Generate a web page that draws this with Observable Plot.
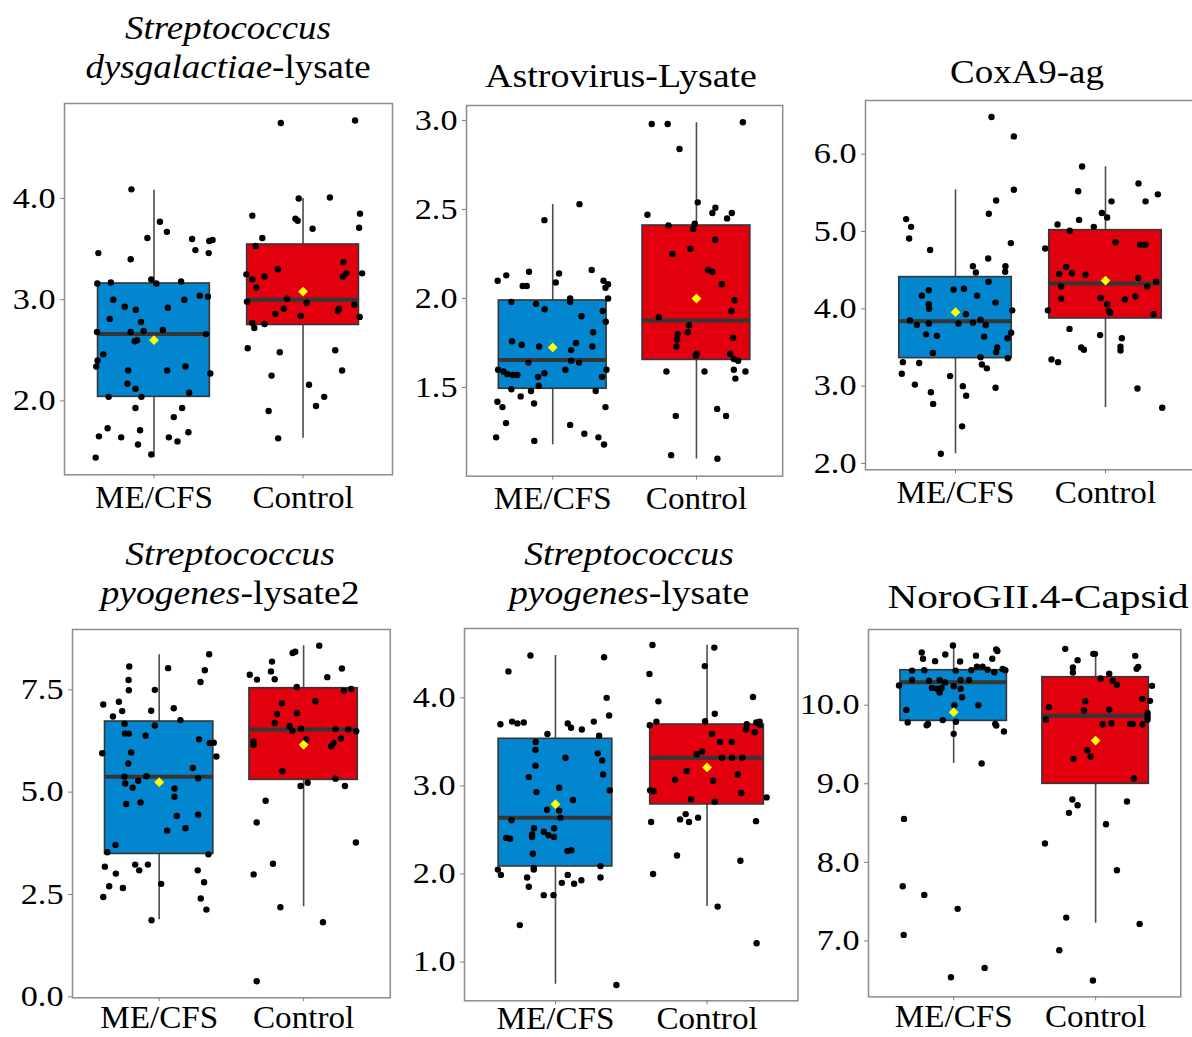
<!DOCTYPE html>
<html><head><meta charset="utf-8">
<script src="https://cdn.jsdelivr.net/npm/d3@7"></script>
<script src="https://cdn.jsdelivr.net/npm/@observablehq/plot@0.6"></script>
<style>
html,body{margin:0;padding:0;background:#fff;}
#fig{position:relative;width:1192px;height:1037px;overflow:hidden;background:#fff;}
.panel{position:absolute;overflow:hidden;}
</style></head><body><div id="fig"></div>
<script>
const groups = ["ME/CFS", "Control"];
const fills = ["#0386d0", "#e2000f"];

// Titles: [text, italic]
const titles = [
  [[["Streptococcus",1]], [["dysgalactiae",1],["-lysate",0]]],
  [[["Astrovirus-Lysate",0]]],
  [[["CoxA9-ag",0]]],
  [[["Streptococcus",1]], [["pyogenes",1],["-lysate2",0]]],
  [[["Streptococcus",1]], [["pyogenes",1],["-lysate",0]]],
  [[["NoroGII.4-Capsid",0]]]
];

// y tick values per panel
const ticks1 = [2.0, 3.0, 4.0];
const ticks2 = [1.5, 2.0, 2.5, 3.0];
const ticks3 = [2.0, 3.0, 4.0, 5.0, 6.0];
const ticks4 = [0.0, 2.5, 5.0, 7.5];
const ticks5 = [1.0, 2.0, 3.0, 4.0];
const ticks6 = [7.0, 8.0, 9.0, 10.0];

// box stats per group: [lower whisker, Q1, median, Q3, upper whisker, mean]
const box1 = [[1.44,2.04,2.66,3.16,4.08,2.60],[1.63,2.75,3.00,3.545,4.00,3.08]];
const box2 = [[1.178,1.493,1.655,1.989,2.528,1.725],[1.099,1.655,1.876,2.41,2.987,2.00]];
const box3 = [[2.125,3.362,3.84,4.41,5.54,3.957],[2.724,3.875,4.328,5.017,5.836,4.366]];
const box4 = [[1.88,3.49,5.375,6.726,8.355,5.244],[2.2,5.30,6.53,7.54,8.575,6.156]];
const box5 = [[0.75,2.086,2.638,3.535,4.48,2.793],[1.63,2.79,3.319,3.697,4.598,3.21]];
const box6 = [[9.258,9.80,10.293,10.445,10.768,9.911],[7.225,8.999,9.864,10.356,10.666,9.55]];

// points: [jitter (category units), value]
const me1 = [[-0.151,4.09],[-0.373,3.46],[-0.156,3.40],[0.04,3.77],[0.087,3.67],[-0.044,3.61],[0.256,3.60],[0.278,3.49],[0.371,3.58],[0.393,3.59],[0.367,3.46],[-0.38,3.16],[-0.289,3.17],[-0.018,3.20],[0.016,3.16],[0.182,3.18],[-0.273,3.00],[-0.196,2.93],[-0.122,2.90],[0.204,3.00],[0.307,3.04],[0.362,3.03],[-0.296,2.81],[-0.087,2.78],[0.093,2.92],[-0.382,2.68],[-0.156,2.68],[-0.069,2.69],[0.06,2.70],[-0.129,2.59],[-0.113,2.60],[0.349,2.66],[-0.34,2.46],[-0.378,2.40],[-0.387,2.34],[-0.173,2.30],[0.089,2.30],[0.211,2.34],[0.378,2.27],[-0.178,2.17],[-0.124,2.12],[-0.304,2.04],[-0.084,2.04],[0.236,2.08],[-0.124,1.93],[0.189,1.93],[0.133,1.84],[-0.311,1.73],[-0.369,1.65],[-0.22,1.64],[-0.093,1.71],[-0.107,1.57],[0.1,1.64],[0.158,1.60],[0.231,1.69],[-0.391,1.44],[-0.018,1.47]];
const ctrl1 = [[-0.149,4.745],[0.349,4.77],[-0.029,4.00],[0.18,4.01],[-0.34,3.83],[-0.051,3.80],[-0.036,3.78],[0.382,3.85],[0.376,3.71],[0.064,3.70],[-0.273,3.61],[-0.318,3.53],[-0.38,3.25],[-0.34,3.20],[-0.258,3.23],[-0.169,3.30],[-0.313,3.12],[0.271,3.37],[0.267,3.23],[0.291,3.26],[0.396,3.26],[-0.376,2.98],[-0.107,3.01],[0.024,2.97],[-0.129,2.91],[-0.187,2.86],[-0.016,2.84],[0.242,2.91],[0.233,2.89],[0.344,2.95],[0.38,2.83],[-0.34,2.77],[-0.258,2.76],[-0.327,2.72],[-0.371,2.52],[-0.156,2.48],[0.216,2.50],[-0.211,2.25],[0.262,2.30],[0.04,2.16],[0.142,2.04],[0.087,1.95],[-0.231,1.90],[-0.167,1.63]];

const me2 = [[0.186,2.53],[-0.058,2.44],[-0.383,2.10],[-0.323,2.13],[-0.165,2.15],[-0.209,2.07],[-0.181,2.07],[0.044,2.14],[0.021,2.09],[0.271,2.16],[0.353,2.10],[0.367,2.06],[0.385,2.08],[-0.288,1.98],[-0.116,1.97],[-0.056,1.94],[0.121,2.00],[0.121,1.98],[0.385,2.00],[0.348,1.93],[0.2,1.90],[0.369,1.87],[0.281,1.81],[-0.283,1.76],[-0.216,1.74],[-0.095,1.73],[0.162,1.75],[0.128,1.71],[0.276,1.73],[-0.38,1.60],[-0.343,1.59],[-0.316,1.575],[-0.278,1.57],[-0.246,1.57],[-0.169,1.64],[0.088,1.60],[0.128,1.65],[0.183,1.64],[-0.058,1.58],[-0.102,1.56],[0.343,1.56],[0.374,1.60],[-0.288,1.49],[-0.151,1.48],[-0.097,1.51],[-0.223,1.45],[0.299,1.48],[-0.385,1.42],[-0.35,1.39],[-0.13,1.41],[0.367,1.39],[-0.325,1.30],[0.121,1.29],[-0.394,1.22],[-0.128,1.20],[0.22,1.24],[0.318,1.22],[0.357,1.18]];
const ctrl2 = [[-0.311,2.98],[-0.2,2.98],[0.323,2.99],[-0.118,2.84],[0.009,2.54],[-0.341,2.47],[0.132,2.51],[0.111,2.48],[0.246,2.48],[0.213,2.45],[-0.195,2.41],[-0.012,2.42],[-0.023,2.39],[0.13,2.33],[-0.042,2.28],[-0.167,2.25],[0.081,2.16],[0.111,2.15],[0.176,2.08],[0.265,1.99],[0.244,1.93],[-0.262,1.895],[-0.051,1.85],[-0.06,1.81],[-0.13,1.80],[-0.135,1.77],[-0.139,1.73],[0.002,1.69],[-0.005,1.68],[0.255,1.78],[0.234,1.69],[0.26,1.66],[0.29,1.65],[-0.209,1.59],[0.056,1.59],[0.26,1.60],[0.341,1.59],[0.271,1.55],[-0.144,1.34],[0.144,1.38],[0.206,1.34],[-0.176,1.12],[0.146,1.10]];

const me3 = [[0.24,6.48],[0.389,6.23],[0.389,5.54],[0.271,5.40],[-0.329,5.16],[-0.296,5.06],[-0.309,4.91],[0.222,5.23],[-0.169,4.76],[0.369,4.85],[0.218,4.65],[0.116,4.55],[0.136,4.47],[0.333,4.55],[0.331,4.48],[0.22,4.35],[-0.224,4.17],[-0.178,4.24],[-0.013,4.25],[0.056,4.26],[0.144,4.17],[-0.178,4.06],[-0.176,4.00],[0.267,4.08],[0.378,3.98],[0.069,3.93],[-0.304,3.85],[-0.258,3.79],[-0.178,3.81],[0.02,3.81],[0.116,3.82],[0.167,3.86],[0.202,3.79],[-0.196,3.67],[-0.124,3.65],[0.191,3.64],[0.371,3.69],[0.347,3.62],[0.278,3.50],[0.271,3.44],[-0.151,3.43],[0.167,3.375],[0.349,3.36],[-0.351,3.31],[-0.242,3.30],[0.176,3.28],[0.209,3.23],[-0.358,3.16],[-0.036,3.13],[-0.271,3.02],[0.049,3.00],[0.267,2.98],[-0.164,2.92],[0.071,2.875],[-0.149,2.77],[0.044,2.48],[-0.098,2.125]];
const ctrl3 = [[-0.156,5.84],[0.22,5.62],[-0.182,5.52],[0.349,5.48],[0.04,5.39],[0.267,5.39],[-0.024,5.24],[0.011,5.18],[-0.176,5.15],[-0.32,5.09],[-0.078,5.06],[-0.238,5.01],[-0.402,4.78],[0.067,4.86],[0.231,4.83],[0.267,4.83],[-0.262,4.54],[-0.309,4.45],[-0.224,4.46],[-0.133,4.44],[-0.296,4.29],[0.218,4.40],[0.278,4.29],[0.338,4.35],[-0.296,4.13],[-0.033,4.14],[0.011,4.06],[0.129,4.12],[0.198,4.16],[0.022,3.97],[0.031,3.95],[-0.384,3.98],[0.32,3.93],[-0.24,3.74],[-0.036,3.66],[0.109,3.62],[0.1,3.51],[0.1,3.46],[-0.162,3.50],[-0.144,3.47],[-0.36,3.345],[-0.316,3.31],[0.213,2.97],[0.378,2.72]];

const me4 = [[0.346,8.37],[-0.207,8.07],[0.062,8.03],[0.316,7.98],[-0.212,7.74],[0.286,7.69],[-0.21,7.49],[-0.03,7.50],[-0.387,7.14],[-0.279,7.21],[0.101,7.05],[-0.256,6.98],[-0.055,6.99],[-0.32,6.85],[0.147,6.76],[-0.24,6.67],[-0.03,6.63],[-0.237,6.43],[-0.21,6.43],[-0.094,6.38],[0.276,6.29],[0.35,6.20],[0.378,6.21],[-0.394,5.95],[-0.194,5.97],[0.396,5.87],[-0.214,5.70],[0.233,5.59],[-0.24,5.375],[-0.088,5.39],[0.27,5.34],[-0.235,5.21],[-0.184,5.11],[-0.145,5.28],[0.106,5.09],[0.106,4.89],[-0.228,4.71],[-0.129,4.75],[0.122,4.42],[0.27,4.45],[0.055,4.06],[0.182,4.12],[-0.302,3.71],[-0.359,3.53],[0.341,3.48],[-0.376,3.18],[-0.166,3.23],[-0.138,3.09],[-0.078,3.23],[0.267,3.09],[-0.3,3.01],[-0.346,2.70],[-0.251,2.66],[-0.387,2.44],[0.014,2.76],[0.311,2.80],[0.288,2.40],[0.327,2.13],[-0.053,1.87]];
const ctrl4 = [[0.108,8.58],[-0.076,8.40],[-0.058,8.43],[-0.219,8.19],[-0.226,7.95],[0.265,8.02],[-0.373,7.87],[-0.323,7.75],[-0.2,7.76],[0.164,7.81],[-0.048,7.57],[0.279,7.48],[0.329,7.52],[-0.15,7.17],[0.081,7.22],[-0.184,6.91],[-0.046,6.93],[-0.2,6.69],[-0.097,6.61],[-0.078,6.50],[-0.018,6.55],[0.221,6.54],[0.309,6.53],[0.364,6.49],[-0.346,6.24],[-0.346,6.16],[0.018,6.29],[0.258,6.31],[0.191,6.12],[0.207,6.20],[-0.147,5.51],[0.221,5.33],[0.028,5.23],[-0.021,5.15],[0.286,5.15],[-0.263,4.79],[-0.325,4.26],[0.362,3.77],[-0.212,3.25],[-0.346,2.99],[-0.161,2.19],[0.134,1.82],[-0.325,0.38]];

const me5 = [[-0.165,4.48],[0.321,4.46],[-0.31,4.30],[0.338,4.00],[0.354,3.80],[-0.363,3.70],[-0.286,3.73],[-0.251,3.71],[-0.209,3.72],[-0.053,3.59],[0.081,3.71],[0.103,3.66],[0.174,3.64],[0.253,3.73],[0.288,3.57],[-0.13,3.50],[-0.132,3.41],[0.279,3.37],[0.308,3.29],[0.066,3.32],[-0.132,3.23],[0.314,3.13],[-0.176,3.10],[0.024,2.98],[-0.125,2.93],[0.358,2.95],[0.116,2.84],[-0.055,2.73],[0.024,2.72],[0.033,2.64],[-0.29,2.61],[-0.325,2.41],[-0.299,2.40],[-0.141,2.52],[-0.154,2.45],[-0.154,2.42],[-0.077,2.48],[-0.046,2.44],[-0.009,2.52],[-0.009,2.42],[-0.149,2.23],[0.079,2.26],[0.105,2.27],[0.297,2.09],[-0.38,2.05],[-0.143,2.07],[-0.143,2.05],[-0.36,1.99],[-0.187,1.96],[0.297,1.96],[0.081,1.99],[0.042,1.90],[0.123,1.89],[0.171,1.93],[-0.176,1.855],[-0.077,1.76],[-0.013,1.76],[-0.235,1.42],[0.402,0.74]];
const ctrl5 = [[-0.36,4.60],[0.048,4.57],[-0.015,4.36],[-0.38,4.27],[0.303,4.01],[-0.321,3.96],[0.051,3.82],[-0.334,3.73],[-0.013,3.735],[-0.378,3.69],[0.262,3.70],[0.325,3.72],[0.347,3.73],[0.349,3.69],[0.257,3.64],[0.314,3.61],[0.033,3.59],[0.086,3.50],[0.163,3.50],[-0.068,3.36],[-0.031,3.39],[0.099,3.32],[0.165,3.32],[0.233,3.32],[-0.134,3.17],[0.202,3.13],[-0.211,3.07],[0.04,3.06],[-0.376,2.95],[-0.352,2.94],[-0.105,2.85],[0.226,2.92],[0.393,2.87],[0.051,2.82],[-0.141,2.68],[-0.178,2.62],[-0.119,2.59],[-0.059,2.64],[-0.369,2.59],[0.323,2.60],[-0.198,2.21],[0.22,2.15],[-0.356,2.00],[0.07,1.63],[0.327,1.215]];

const me6 = [[-0.005,10.76],[-0.225,10.67],[-0.059,10.645],[0.3,10.71],[0.308,10.69],[0.157,10.63],[0.272,10.59],[-0.216,10.59],[-0.131,10.56],[0.045,10.555],[-0.293,10.44],[-0.207,10.445],[0.014,10.44],[0.164,10.49],[0.204,10.49],[0.239,10.45],[0.286,10.42],[0.345,10.46],[0.364,10.445],[0.124,10.445],[-0.385,10.25],[-0.293,10.32],[-0.174,10.31],[-0.099,10.32],[-0.061,10.29],[0.049,10.32],[0.108,10.32],[-0.153,10.22],[-0.117,10.21],[-0.085,10.22],[0,10.24],[0.049,10.21],[-0.099,10.16],[0.059,10.10],[-0.333,9.94],[0.174,10.00],[0.005,10.00],[-0.324,9.78],[-0.181,9.76],[-0.19,9.745],[-0.077,9.81],[0.016,9.79],[0.293,9.76],[0.3,9.74],[0.354,9.665],[0,9.635],[0.197,9.258],[-0.35,8.553],[-0.359,7.696],[-0.207,7.586],[0.028,7.408],[-0.352,7.077],[0.218,6.657],[-0.019,6.538]];
const ctrl6 = [[-0.214,10.717],[-0.016,10.653],[-0.005,10.653],[0.279,10.628],[-0.127,10.573],[-0.16,10.48],[-0.16,10.416],[0.3,10.488],[0.289,10.462],[0.096,10.40],[0.035,10.34],[0.122,10.31],[0.15,10.26],[0.397,10.246],[0.329,10.08],[0.383,10.055],[-0.073,10.05],[-0.329,9.975],[-0.082,9.932],[0.096,9.945],[0.366,9.902],[0.366,9.86],[-0.35,9.818],[0.366,9.818],[0.049,9.758],[0.11,9.77],[0.244,9.762],[0.261,9.762],[0.331,9.758],[-0.059,9.427],[-0.035,9.347],[-0.157,9.317],[0.27,9.067],[-0.164,8.80],[-0.127,8.727],[0.221,8.774],[-0.188,8.63],[0.073,8.485],[-0.357,8.239],[0.15,7.90],[-0.207,7.297],[0.31,7.217],[-0.256,6.882],[-0.019,6.496]];

// layout: frame [left, right, top, bottom] in page px, y domain, title centre/baselines/stretch, x label padding
const panels = [
  {me: me1, ctrl: ctrl1, box: box1, ticks: ticks1, title: titles[0], frame: [64.3, 392.3, 102.7, 474], yDomain: [1.270, 4.938], titleX: 228, titleY: [39.3, 78.3], titleS: 1.12, xPad: 7},
  {me: me2, ctrl: ctrl2, box: box2, ticks: ticks2, title: titles[1], frame: [465.8, 782, 105, 475.7], yDomain: [1.002, 3.084], titleX: 621, titleY: [86.7], titleS: 1.15, xPad: 7},
  {me: me3, ctrl: ctrl3, box: box3, ticks: ticks3, title: titles[2], frame: [865, 1195, 100, 469.3], yDomain: [1.918, 6.694], titleX: 1027, titleY: [83.3], titleS: 1.12, xPad: 7},
  {me: me4, ctrl: ctrl4, box: box4, ticks: ticks4, title: titles[3], frame: [72.2, 390, 628.7, 997], yDomain: [-0.024, 8.974], titleX: 230, titleY: [565, 604], titleS: 1.14, xPad: 4},
  {me: me5, ctrl: ctrl5, box: box5, ticks: ticks5, title: titles[4], frame: [463.5, 797, 627.7, 1000], yDomain: [0.561, 4.787], titleX: 629, titleY: [565, 604], titleS: 1.14, xPad: 2},
  {me: me6, ctrl: ctrl6, box: box6, ticks: ticks6, title: titles[5], frame: [867.7, 1180, 629.3, 996.7], yDomain: [6.288, 10.963], titleX: 1038, titleY: [608], titleS: 1.25, xPad: 4}
];

const FONT = "'Liberation Serif', 'Times New Roman', Times, serif";
const fig = document.getElementById("fig");

function stretchText(svg) {
  svg.querySelectorAll("text").forEach(t => {
    const tr = t.getAttribute("transform");
    if (!tr) return;
    const g = t.closest("[aria-label]");
    const lab = g ? g.getAttribute("aria-label") : "";
    const sx = lab.startsWith("y-axis") ? 1.18 : 1.07;
    t.setAttribute("transform", tr + ` scale(${sx},1)`);
  });
}

panels.forEach(p => {
  const [L, R, T, B] = p.frame;
  const ml = 72, mr = 8, mt = 8, mb = Math.min(60, 1037 - B);
  const stats = p.box.map((b, i) => ({pos: i + 1, lo: b[0], q1: b[1], med: b[2], q3: b[3], hi: b[4], mean: b[5], fill: fills[i]}));
  const pts = [
    ...p.me.map(([dx, v]) => ({x: 1 + dx, v})),
    ...p.ctrl.map(([dx, v]) => ({x: 2 + dx, v}))
  ];
  const W = ml + (R - L) + mr, H = mt + (B - T) + mb;
  const svg = Plot.plot({
    width: W, height: H,
    marginLeft: ml, marginRight: mr, marginTop: mt, marginBottom: mb,
    x: {type: "linear", domain: [0.4, 2.6]},
    y: {type: "linear", domain: p.yDomain},
    color: {type: "identity"},
    style: {fontFamily: FONT, background: "transparent", color: "black", overflow: "visible"},
    marks: [
      Plot.ruleX(stats, {x: "pos", y1: "lo", y2: "hi", stroke: "#4d4d4d", strokeWidth: 1.6}),
      Plot.rect(stats, {x1: d => d.pos - 0.375, x2: d => d.pos + 0.375, y1: "q1", y2: "q3", fill: "fill", stroke: "#353535", strokeWidth: 1.6}),
      Plot.ruleY(stats, {y: "med", x1: d => d.pos - 0.375, x2: d => d.pos + 0.375, stroke: "#353535", strokeWidth: 4}),
      Plot.dot(pts, {x: "x", y: "v", r: 3.2, fill: "black", stroke: "none"}),
      Plot.dot(stats, {x: "pos", y: "mean", symbol: "diamond2", r: 4.4, fill: "#ffff00", stroke: "none"}),
      Plot.frame({stroke: "#8c8c8c", strokeWidth: 1.5}),
      Plot.axisY(p.ticks, {tickFormat: d => d.toFixed(1), tickSize: 4, tickPadding: 5, fontSize: 29, stroke: "#808080", fill: "black", label: null}),
      Plot.axisX([1, 2], {tickFormat: d => groups[d - 1], tickSize: 4, tickPadding: p.xPad, fontSize: 31, stroke: "#808080", fill: "black", label: null})
    ]
  });
  svg.style.maxWidth = "none";
  stretchText(svg);
  const div = document.createElement("div");
  div.className = "panel";
  div.style.left = (L - ml) + "px";
  div.style.top = (T - mt) + "px";
  div.style.width = W + "px";
  div.style.height = H + "px";
  div.appendChild(svg);
  fig.appendChild(div);
});

// Titles overlay
const overlay = d3.select(fig).append("svg")
  .attr("width", 1192).attr("height", 1037)
  .style("position", "absolute").style("left", "0px").style("top", "0px")
  .style("pointer-events", "none");
panels.forEach(p => {
  p.title.forEach((line, i) => {
    const text = overlay.append("text")
      .attr("text-anchor", "middle")
      .attr("font-family", FONT)
      .attr("font-size", 33)
      .attr("fill", "black")
      .attr("transform", `translate(${p.titleX},${p.titleY[i]}) scale(${p.titleS},1)`);
    line.forEach(([s, it]) => text.append("tspan").attr("font-style", it ? "italic" : "normal").text(s));
  });
});
</script>
</body></html>
